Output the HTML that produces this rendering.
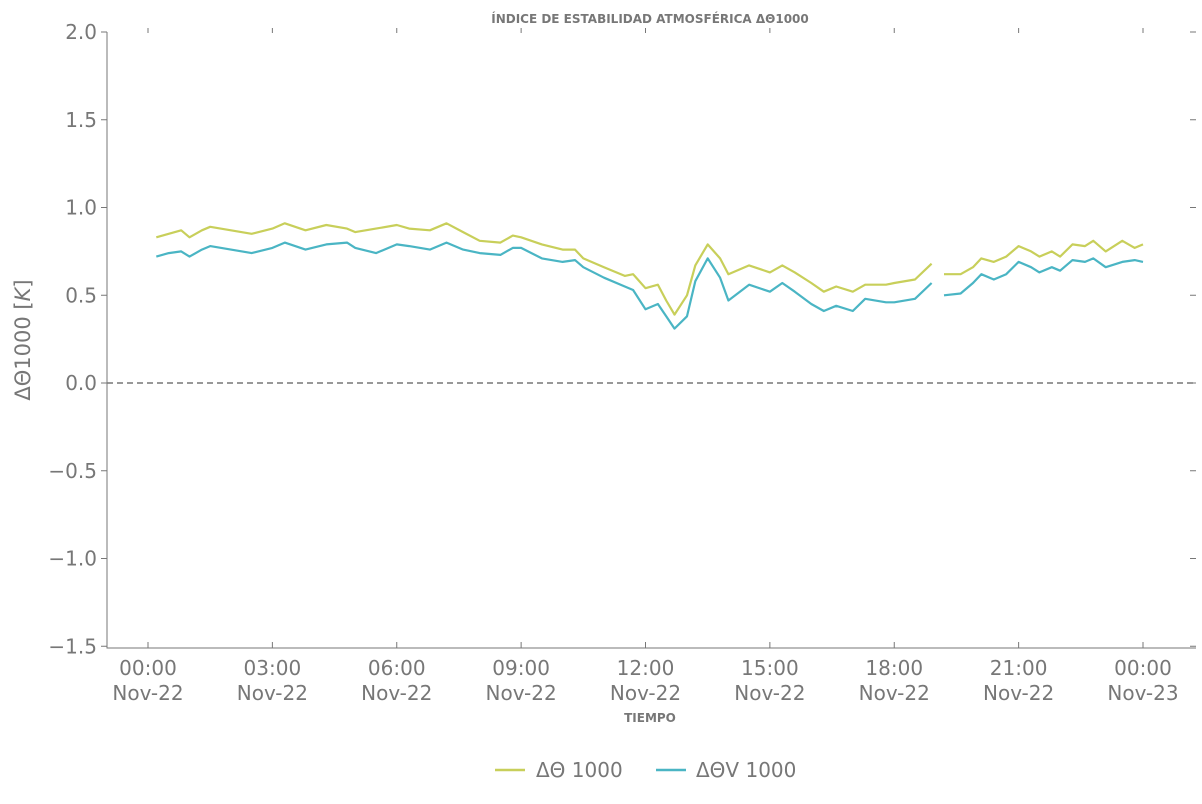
<!DOCTYPE html>
<html><head><meta charset="utf-8"><style>
body{margin:0;background:#fff}
svg text{font-family:"DejaVu Sans","Liberation Sans",sans-serif;fill:#777}
</style></head><body>
<svg id="chart" width="1202" height="799" xmlns="http://www.w3.org/2000/svg">
<text x="650" y="23" font-size="12" font-weight="bold" text-anchor="middle" fill="#999">ÍNDICE DE ESTABILIDAD ATMOSFÉRICA ΔΘ1000</text>
<g id="axes"></g>
<g id="series"></g>
<text x="650" y="722" font-size="12" font-weight="bold" text-anchor="middle" fill="#999">TIEMPO</text>
<text transform="translate(30,340) rotate(-90)" font-size="21" text-anchor="middle">ΔΘ1000 [<tspan font-style="italic">K</tspan>]</text>
<g>
<line x1="495" y1="770" x2="525" y2="770" stroke="#c8cf5a" stroke-width="2.5"/>
<text x="536" y="777" font-size="20">ΔΘ 1000</text>
<line x1="656" y1="770" x2="686" y2="770" stroke="#4ab5c4" stroke-width="2.5"/>
<text x="696" y="777" font-size="20">ΔΘV 1000</text>
</g>
</svg>
<script>
const hours=[0.2,0.5,0.8,1.0,1.3,1.5,2.0,2.5,3.0,3.3,3.8,4.3,4.8,5.0,5.5,6.0,6.3,6.8,7.2,7.6,8.0,8.5,8.8,9.0,9.5,10.0,10.3,10.5,11.0,11.5,11.7,12.0,12.3,12.5,12.7,13.0,13.2,13.5,13.8,14.0,14.5,15.0,15.3,15.6,16.0,16.3,16.6,17.0,17.3,17.8,18.0,18.5,18.9,19.05,19.2,19.6,19.9,20.1,20.4,20.7,21.0,21.3,21.5,21.8,22.0,22.3,22.6,22.8,23.1,23.5,23.8,24.0];
const theta=[0.83,0.85,0.87,0.83,0.87,0.89,0.87,0.85,0.88,0.91,0.87,0.90,0.88,0.86,0.88,0.90,0.88,0.87,0.91,0.86,0.81,0.80,0.84,0.83,0.79,0.76,0.76,0.71,0.66,0.61,0.62,0.54,0.56,0.47,0.39,0.50,0.67,0.79,0.71,0.62,0.67,0.63,0.67,0.63,0.57,0.52,0.55,0.52,0.56,0.56,0.57,0.59,0.68,null,0.62,0.62,0.66,0.71,0.69,0.72,0.78,0.75,0.72,0.75,0.72,0.79,0.78,0.81,0.75,0.81,0.77,0.79];
const thetaV=[0.72,0.74,0.75,0.72,0.76,0.78,0.76,0.74,0.77,0.80,0.76,0.79,0.80,0.77,0.74,0.79,0.78,0.76,0.80,0.76,0.74,0.73,0.77,0.77,0.71,0.69,0.70,0.66,0.60,0.55,0.53,0.42,0.45,0.38,0.31,0.38,0.58,0.71,0.60,0.47,0.56,0.52,0.57,0.52,0.45,0.41,0.44,0.41,0.48,0.46,0.46,0.48,0.57,null,0.50,0.51,0.57,0.62,0.59,0.62,0.69,0.66,0.63,0.66,0.64,0.70,0.69,0.71,0.66,0.69,0.70,0.69];
const yTicks=[-1.5,-1.0,-0.5,0.0,0.5,1.0,1.5,2.0];
const xTickHours=[0,3,6,9,12,15,18,21,24];
const xTickLabels=[["00:00","Nov-22"],["03:00","Nov-22"],["06:00","Nov-22"],["09:00","Nov-22"],["12:00","Nov-22"],["15:00","Nov-22"],["18:00","Nov-22"],["21:00","Nov-22"],["00:00","Nov-23"]];
const NS="http://www.w3.org/2000/svg";
const X=h=>148+h*(1143-148)/24;
const Y=v=>383-v*175.5;
const axes=document.getElementById('axes'),series=document.getElementById('series');
function mk(tag,attrs,parent){const e=document.createElementNS(NS,tag);for(const k in attrs)e.setAttribute(k,attrs[k]);parent.appendChild(e);return e;}
const ax=mk('path',{d:'M107 32 V648 H1196',fill:'none',stroke:'#777','stroke-width':1},axes);


const zl=mk('line',{x1:107,x2:1196,y1:Y(0),y2:Y(0),stroke:'#777','stroke-width':1.5,'stroke-dasharray':'6,4'},axes);


yTicks.forEach(v=>{
 mk('line',{x1:101,x2:107,y1:Y(v),y2:Y(v),stroke:'#777'},axes);
 mk('line',{x1:1190,x2:1196,y1:Y(v),y2:Y(v),stroke:'#777'},axes);
 const t=mk('text',{x:97,y:Y(v)+7,'font-size':20,'text-anchor':'end'},axes);
 t.textContent=v.toFixed(1).replace('-','−');
 
 
});
xTickHours.forEach((h,i)=>{
 mk('line',{x1:X(h),x2:X(h),y1:642,y2:648,stroke:'#777'},axes);
 mk('line',{x1:X(h),x2:X(h),y1:28,y2:33,stroke:'#777'},axes);
 const t=mk('text',{x:X(h),y:675,'font-size':20,'text-anchor':'middle'},axes);
 
 
 const a=mk('tspan',{x:X(h),dy:0},t);a.textContent=xTickLabels[i][0];
 const b=mk('tspan',{x:X(h),dy:25},t);b.textContent=xTickLabels[i][1];
});
function line(vals,color,name){
 let d='',pen=false;
 vals.forEach((v,i)=>{if(v===null){pen=false;return;}d+=(pen?'L':'M')+X(hours[i]).toFixed(1)+' '+Y(v).toFixed(1)+' ';pen=true;});
 const p=mk('path',{d,fill:'none',stroke:color,'stroke-width':2.2,'stroke-linejoin':'round'},series);
 
 
}
line(theta,'#c8cf5a','theta-line');
line(thetaV,'#4ab5c4','thetav-line');
</script>
</body></html>
